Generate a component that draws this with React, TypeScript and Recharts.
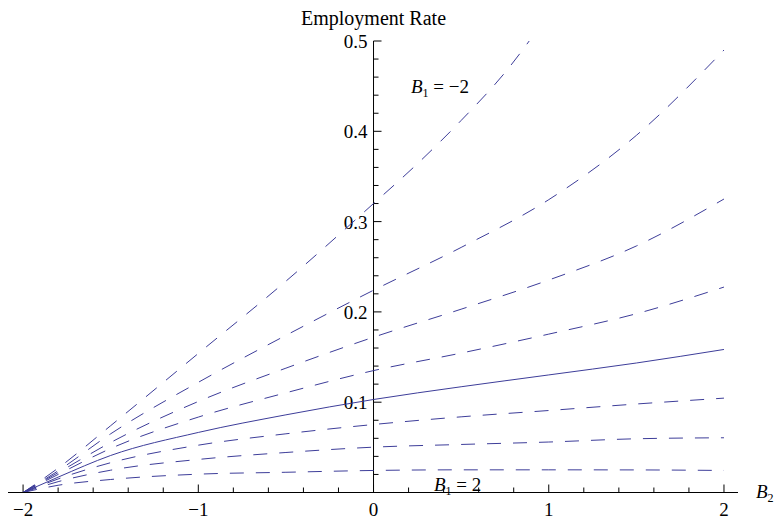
import React from 'react';
import { LineChart, Line, XAxis, YAxis, ReferenceLine } from 'recharts';

// ---- data ----
const B2_GRID = [-2, -1.8, -1.5, -1, -0.5, 0, 0.5, 1, 1.5, 2];
const B2_TOP = [-2, -1.8, -1.5, -1, -0.5, 0, 0.25, 0.5, 0.75, 1, 1.25];

const rateB1m2 = [0, 0.027, 0.074, 0.154, 0.234, 0.32, 0.364, 0.412, 0.465, 0.53, 0.6];
const rateB1m15 = [0, 0.024, 0.065, 0.122, 0.174, 0.224, 0.2714, 0.3243, 0.3955, 0.49];
const rateB1m1 = [0, 0.022, 0.0554, 0.1008, 0.1377, 0.172, 0.203, 0.2353, 0.273, 0.325];
const rateB1m05 = [0, 0.02, 0.0487, 0.0835, 0.1104, 0.135, 0.1544, 0.1754, 0.198, 0.2275];
const rateB10 = [0, 0.017, 0.041, 0.0665, 0.086, 0.103, 0.1171, 0.1302, 0.1434, 0.1584];
const rateB105 = [0, 0.015, 0.033, 0.0524, 0.065, 0.0753, 0.0838, 0.0908, 0.098, 0.1045];
const rateB11 = [0, 0.012, 0.0247, 0.0366, 0.0443, 0.0502, 0.0532, 0.0559, 0.0595, 0.0606];
const rateB115 = [0, 0.008, 0.0144, 0.0203, 0.0224, 0.0244, 0.0251, 0.0251, 0.025, 0.0244];

const X_TICKS = [-2, -1.8, -1.6, -1.4, -1.2, -1, -0.8, -0.6, -0.4, -0.2, 0, 0.2, 0.4, 0.6, 0.8, 1, 1.2, 1.4, 1.6, 1.8, 2];
const Y_TICKS = [0.02, 0.04, 0.06, 0.08, 0.1, 0.12, 0.14, 0.16, 0.18, 0.2, 0.22, 0.24, 0.26, 0.28, 0.3, 0.32, 0.34, 0.36, 0.38, 0.4, 0.42, 0.44, 0.46, 0.48, 0.5];

const TITLE = 'Employment Rate';

// ---- layout / style ----
const W = 774;
const H = 523;
const MARGIN = { top: 41, right: 36, bottom: 0, left: 8 };
const XAXIS_H = 30.5;
const X_MIN = -2.086;
const X_MAX = 2.08;
const Y_MIN = 0;
const Y_MAX = 0.5;
const PLOT_W = W - MARGIN.left - MARGIN.right;
const PLOT_H = H - MARGIN.top - MARGIN.bottom - XAXIS_H;
const X0 = MARGIN.left + (PLOT_W * (0 - X_MIN)) / (X_MAX - X_MIN);

// tick lengths in pixels, converted to data units
const MAJOR_PX = 8;
const MINOR_PX = 5;
const pxToX = (px: number) => (px * (X_MAX - X_MIN)) / PLOT_W;
const pxToY = (px: number) => (px * (Y_MAX - Y_MIN)) / PLOT_H;

const FONT = '"Liberation Serif", "Times New Roman", serif';
const LINE_COLOR = '#3d3d99';
const DASH = '14 12';

const toData = (xs: number[], ys: number[]) => xs.map((x, i) => ({ x, y: ys[i] }));

const series = [
  { name: 'B1=-2', xs: B2_TOP, ys: rateB1m2, dash: true },
  { name: 'B1=-1.5', xs: B2_GRID, ys: rateB1m15, dash: true },
  { name: 'B1=-1', xs: B2_GRID, ys: rateB1m1, dash: true },
  { name: 'B1=-0.5', xs: B2_GRID, ys: rateB1m05, dash: true },
  { name: 'B1=0', xs: B2_GRID, ys: rateB10, dash: false },
  { name: 'B1=0.5', xs: B2_GRID, ys: rateB105, dash: true },
  { name: 'B1=1', xs: B2_GRID, ys: rateB11, dash: true },
  { name: 'B1=1.5', xs: B2_GRID, ys: rateB115, dash: true },
];

const isMajorX = (v: number) => Math.abs(v - Math.round(v)) < 1e-6;
const isMajorY = (v: number) => Math.abs(v * 10 - Math.round(v * 10)) < 1e-6;

const fmtX = (v: number) => {
  const r = Math.round(v);
  return r < 0 ? '\u2212' + Math.abs(r) : String(r);
};

const XTick = (props: any) => {
  const { x, y, payload } = props;
  const v = payload.value;
  if (!isMajorX(v)) return <g />;
  return (
    <text x={x} y={y + 23} textAnchor="middle" fontFamily={FONT} fontSize={19} fill="#000">
      {fmtX(v)}
    </text>
  );
};

const makeYLabel = (v: number) => (p: any) => {
  const vb = p.viewBox || {};
  return (
    <text x={vb.x - 6} y={vb.y + 7} textAnchor="end" fontFamily={FONT} fontSize={19} fill="#000">
      {v.toFixed(1)}
    </text>
  );
};

export default function App() {
  return (
    <div style={{ position: 'absolute', left: 0, top: 0, width: W, height: H, background: '#fff' }}>
      <LineChart width={W} height={H} margin={MARGIN}>
        <XAxis
          type="number"
          dataKey="x"
          domain={[X_MIN, X_MAX]}
          allowDataOverflow
          ticks={X_TICKS}
          interval={0}
          tickLine={false}
          tickSize={0}
          tickMargin={0}
          tick={<XTick />}
          height={XAXIS_H}
          axisLine={{ stroke: '#000', strokeWidth: 1 }}
        />
        <YAxis
          type="number"
          dataKey="y"
          domain={[Y_MIN, Y_MAX]}
          allowDataOverflow
          width={0}
          axisLine={false}
          tickLine={false}
          tick={false}
        />
        <ReferenceLine x={0} stroke="#000" strokeWidth={1} />
        {X_TICKS.map((v) => (
          <ReferenceLine
            key={'xt' + v}
            segment={[
              { x: v, y: 0 },
              { x: v, y: pxToY(isMajorX(v) ? MAJOR_PX : MINOR_PX) },
            ]}
            stroke="#000"
            strokeWidth={1}
          />
        ))}
        {Y_TICKS.map((v) => (
          <ReferenceLine
            key={'yt' + v}
            segment={[
              { x: 0, y: v },
              { x: pxToX(isMajorY(v) ? MAJOR_PX : MINOR_PX), y: v },
            ]}
            stroke="#000"
            strokeWidth={1}
            label={isMajorY(v) ? makeYLabel(v) : undefined}
          />
        ))}
        {series.map((s) => (
          <Line
            key={s.name}
            name={s.name}
            data={toData(s.xs, s.ys)}
            dataKey="y"
            type="monotone"
            stroke={LINE_COLOR}
            strokeWidth={1}
            strokeDasharray={s.dash ? DASH : undefined}
            dot={false}
            activeDot={false}
            isAnimationActive={false}
          />
        ))}
      </LineChart>
      <svg width={W} height={H} style={{ position: 'absolute', left: 0, top: 0, pointerEvents: 'none' }}>
        <text x={X0} y={25} textAnchor="middle" fontFamily={FONT} fontSize={20} fill="#000">
          {TITLE}
        </text>
        <text x={411} y={93} fontFamily={FONT} fontSize={19} fill="#000">
          <tspan fontStyle="italic">B</tspan>
          <tspan fontSize={12} dy={4}>1</tspan>
          <tspan dy={-4}>{' = \u22122'}</tspan>
        </text>
        <text x={434} y={491} fontFamily={FONT} fontSize={19} fill="#000">
          <tspan fontStyle="italic">B</tspan>
          <tspan fontSize={12} dy={4}>1</tspan>
          <tspan dy={-4}>{' = 2'}</tspan>
        </text>
        <text x={756} y={498} fontFamily={FONT} fontSize={19} fill="#000">
          <tspan fontStyle="italic">B</tspan>
          <tspan fontSize={12} dy={4}>2</tspan>
        </text>
      </svg>
    </div>
  );
}
